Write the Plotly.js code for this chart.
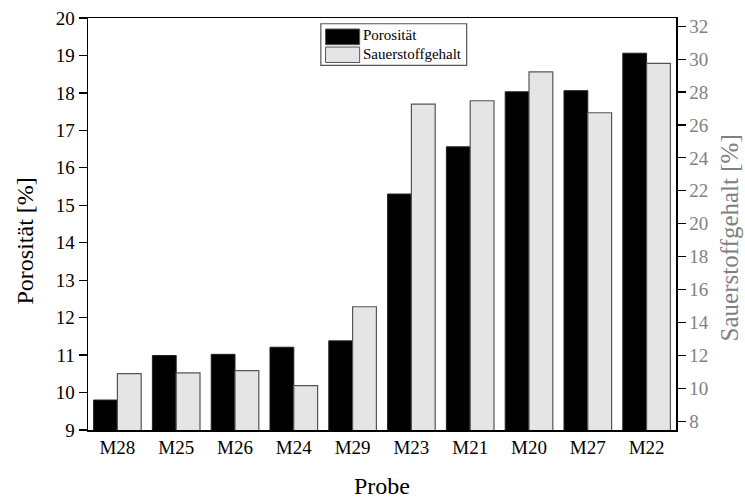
<!DOCTYPE html>
<html>
<head>
<meta charset="utf-8">
<script src="https://cdn.plot.ly/plotly-3.0.1.min.js"></script>
<style>
  html, body { margin: 0; padding: 0; background: #ffffff; }
  #chart { width: 745px; height: 498px; }
</style>
</head>
<body>
<div id="chart"></div>
<script>
// Samples, in plotted order
const probes = ['M28', 'M25', 'M26', 'M24', 'M29', 'M23', 'M21', 'M20', 'M27', 'M22'];
// Porosity [%] (left axis)
const porositaet = [9.80, 10.99, 11.02, 11.21, 11.38, 15.30, 16.56, 18.03, 18.06, 19.06];
// Oxygen content [%] (right axis)
const sauerstoffgehalt = [10.89, 10.93, 11.07, 10.16, 14.95, 27.27, 27.47, 29.22, 26.74, 29.74];

const leftTicks = [9, 10, 11, 12, 13, 14, 15, 16, 17, 18, 19, 20];
const rightTicks = [8, 10, 12, 14, 16, 18, 20, 22, 24, 26, 28, 30, 32];

const serif = 'Liberation Serif, Times New Roman, serif';
const grayText = '#808080';

const traces = [
  {
    type: 'bar',
    name: 'Porosität',
    x: probes,
    y: porositaet,
    yaxis: 'y',
    offsetgroup: '1',
    marker: { color: '#000000', line: { color: '#222222', width: 1 } },
    showlegend: false
  },
  {
    type: 'bar',
    name: 'Sauerstoffgehalt',
    x: probes,
    y: sauerstoffgehalt,
    yaxis: 'y2',
    offsetgroup: '2',
    marker: { color: '#e5e5e5', line: { color: '#555555', width: 1.2 } },
    showlegend: false
  }
];

// Legend box drawn in paper coordinates
const legendShapes = [
  { type: 'rect', xref: 'paper', yref: 'paper', x0: 0.396, x1: 0.644, y0: 0.885, y1: 0.986,
    line: { color: '#555555', width: 1.2 }, fillcolor: '#ffffff', layer: 'above' },
  { type: 'rect', xref: 'paper', yref: 'paper', x0: 0.404, x1: 0.462, y0: 0.9352, y1: 0.9733,
    line: { color: '#555555', width: 1 }, fillcolor: '#000000', layer: 'above' },
  { type: 'rect', xref: 'paper', yref: 'paper', x0: 0.404, x1: 0.462, y0: 0.892, y1: 0.9295,
    line: { color: '#555555', width: 1 }, fillcolor: '#e5e5e5', layer: 'above' }
];

const annotations = [
  { text: 'Porosität', xref: 'paper', yref: 'paper', x: 0.465, y: 0.9594,
    xanchor: 'left', yanchor: 'middle', showarrow: false,
    font: { family: serif, size: 15, color: '#000000' } },
  { text: 'Sauerstoffgehalt', xref: 'paper', yref: 'paper', x: 0.465, y: 0.9125,
    xanchor: 'left', yanchor: 'middle', showarrow: false,
    font: { family: serif, size: 15, color: '#000000' } },
  // axis titles
  { text: 'Porosität [%]', xref: 'paper', yref: 'paper', x: -0.1078, y: 0.459,
    xanchor: 'center', yanchor: 'middle', textangle: -90, showarrow: false,
    font: { family: serif, size: 24, color: '#000000' } },
  { text: 'Sauerstoffgehalt [%]', xref: 'paper', yref: 'paper', x: 1.0908, y: 0.466,
    xanchor: 'center', yanchor: 'middle', textangle: -90, showarrow: false,
    font: { family: serif, size: 25, color: grayText } },
  { text: 'Probe', xref: 'paper', yref: 'paper', x: 0.5, y: -0.137,
    xanchor: 'center', yanchor: 'middle', showarrow: false,
    font: { family: serif, size: 24, color: '#000000' } }
];

const layout = {
  width: 745,
  height: 498,
  margin: { l: 87.5, r: 68.5, t: 18.3, b: 68.4, pad: 0 },
  paper_bgcolor: '#ffffff',
  plot_bgcolor: '#ffffff',
  barmode: 'group',
  bargap: 0.19,
  bargroupgap: 0,
  showlegend: false,
  font: { family: serif, color: '#000000' },
  xaxis: {
    type: 'category',
    range: [-0.5, 9.5],
    showline: true,
    linecolor: '#000000',
    linewidth: 1.5,
    mirror: true,
    ticks: '',
    showgrid: false,
    zeroline: false,
    tickfont: { family: serif, size: 19, color: '#000000' },
    automargin: false
  },
  yaxis: {
    range: [9, 20],
    tickvals: leftTicks,
    ticktext: leftTicks.map(String),
    ticks: 'outside',
    ticklen: 8,
    tickwidth: 1.2,
    tickcolor: '#000000',
    showline: true,
    linecolor: '#000000',
    linewidth: 1.5,
    showgrid: false,
    zeroline: false,
    tickfont: { family: serif, size: 19, color: '#000000' },
    automargin: false
  },
  yaxis2: {
    overlaying: 'y',
    side: 'right',
    range: [7.46, 32.5],
    tickvals: rightTicks,
    ticktext: rightTicks.map(String),
    ticks: 'outside',
    ticklen: 8,
    tickwidth: 1.2,
    tickcolor: '#000000',
    showline: true,
    linecolor: '#000000',
    linewidth: 1.5,
    showgrid: false,
    zeroline: false,
    tickfont: { family: serif, size: 19, color: grayText },
    automargin: false
  },
  shapes: legendShapes,
  annotations: annotations
};

Plotly.newPlot('chart', traces, layout, { staticPlot: true, displayModeBar: false });
</script>
</body>
</html>
